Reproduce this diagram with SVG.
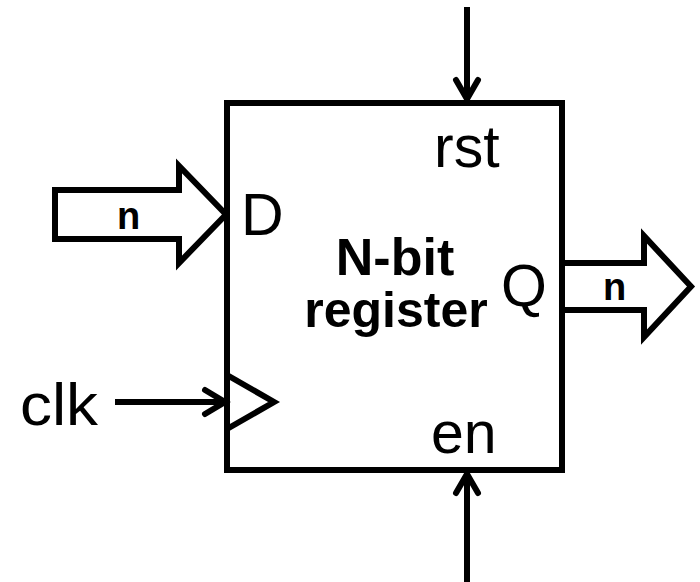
<svg xmlns="http://www.w3.org/2000/svg" width="700" height="582" viewBox="0 0 700 582">
<style>
.ln{fill:none;stroke:#000;stroke-width:6}
.hd{fill:none;stroke:#000;stroke-width:6;stroke-linejoin:miter;stroke-linecap:round}
.lbl{font-family:"Liberation Sans",Arial,sans-serif;font-size:59px;fill:#000}
.bold{font-family:"Liberation Sans",Arial,sans-serif;font-weight:bold;fill:#000}
</style>
<rect width="700" height="582" fill="#fff"/>
<g id="register">
<rect class="ln" x="227" y="103" width="335" height="367"/>
<polyline class="ln" points="227,375 274,402 227,429"/>
<text class="bold" x="395" y="275" font-size="52" text-anchor="middle">N-bit</text>
<text class="bold" x="396" y="327" font-size="50" text-anchor="middle">register</text>
<text class="lbl" x="241" y="235">D</text>
<text class="lbl" x="501" y="306">Q</text>
<text class="lbl" x="434" y="167">rst</text>
<text class="lbl" x="431" y="453">en</text>
</g>
<g id="connectors">
<g id="d-bus">
<polygon class="ln" points="55,190 179,190 179,166 226,214.5 179,263 179,239 55,239"/>
<text class="bold" x="128.5" y="229" font-size="38" text-anchor="middle">n</text>
</g>
<g id="q-bus">
<polyline class="ln" points="562,263 644,263 644,236 691,286.5 644,337 644,310 562,310"/>
<text class="bold" x="614.5" y="300" font-size="38" text-anchor="middle">n</text>
</g>
<g id="clk-in">
<line class="ln" x1="115" y1="402" x2="225" y2="402"/>
<polyline class="hd" points="205,390 225,402 205,414"/>
<text class="lbl" x="20" y="425" textLength="78" lengthAdjust="spacingAndGlyphs">clk</text>
</g>
<g id="rst-in">
<line class="ln" x1="467" y1="7" x2="467" y2="100"/>
<polyline class="hd" points="456,80 467,99 478,80"/>
</g>
<g id="en-in">
<line class="ln" x1="467" y1="582" x2="467" y2="473"/>
<polyline class="hd" points="456,493 467,474 478,493"/>
</g>
</g>
</svg>
